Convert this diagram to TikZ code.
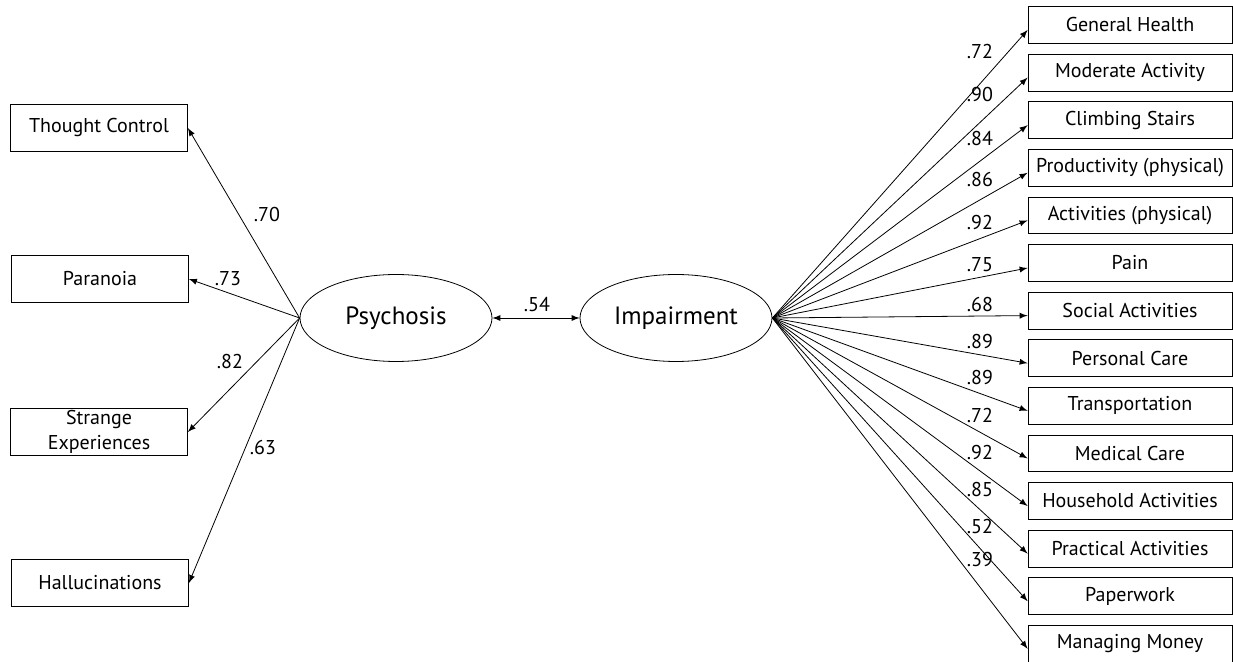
\documentclass[tikz,border=0pt]{standalone}
\usepackage{fontspec}
\setmainfont{PT Sans}
\usetikzlibrary{shapes.geometric}
\begin{document}
\begin{tikzpicture}[>=latex, x=.5pt, y=-.5pt,
    lbox/.style={draw, minimum width=88.5pt, minimum height=23.25pt, inner sep=1pt, align=center, font=\fontsize{10}{12.5}\selectfont},
    rbox/.style={draw, minimum width=102pt, minimum height=18.4pt, inner sep=1pt, font=\fontsize{10}{12}\selectfont},
    latent/.style={draw, ellipse, minimum width=96pt, minimum height=43.5pt, inner sep=0pt, font=\fontsize{12.5}{14}\selectfont},
    coef/.style={font=\fontsize{10}{12}\selectfont, inner sep=0pt},
    load/.style={->, line width=.4pt}]
\useasboundingbox (0,0) rectangle (1233,662);
\node[latent] (psy) at (396,318) {Psychosis};
\node[latent] (imp) at (676,318) {Impairment};
\draw[<->, line width=.4pt] (psy)--(imp);
\node[coef] at (537,305) {.54};
\node[lbox] (tc) at (99,128) {Thought Control};
\node[lbox] (par) at (100,279) {Paranoia};
\node[lbox] (se) at (99,432) {Strange\\Experiences};
\node[lbox] (hal) at (100,583) {Hallucinations};
\draw[load] (psy.west)--(tc.east);
\draw[load] (psy.west)--(par.east);
\draw[load] (psy.west)--(se.east);
\draw[load] (psy.west)--(hal.east);
\node[coef] at (267,215) {.70};
\node[coef] at (228,279) {.73};
\node[coef] at (230,362) {.82};
\node[coef] at (263,448) {.63};
\foreach \t/\v/\ly [count=\i] in {General Health/.72/52, Moderate Activity/.90/95,
    Climbing Stairs/.84/139, Productivity (physical)/.86/180, Activities (physical)/.92/223,
    Pain/.75/265, Social Activities/.68/305, Personal Care/.89/342, Transportation/.89/378,
    Medical Care/.72/416, Household Activities/.92/453, Practical Activities/.85/490,
    Paperwork/.52/527, Managing Money/.39/560}
{
    \node[rbox] (r\i) at (1130,{25+47.6*(\i-1)}) {\t};
    \draw[load] (imp.east)--([yshift=-2.5pt]r\i.west);
    \node[coef] at (980,\ly) {\v};
}
\end{tikzpicture}
\end{document}
